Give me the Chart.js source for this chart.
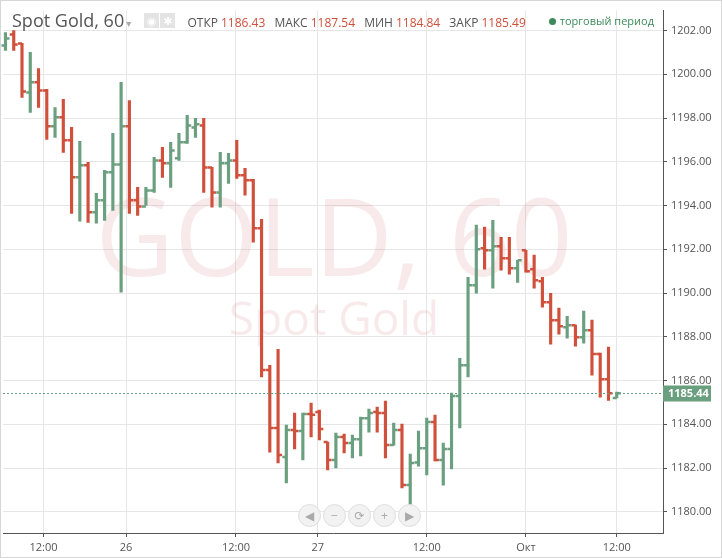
<!DOCTYPE html>
<html>
<head>
<meta charset="utf-8">
<script src="https://cdn.jsdelivr.net/npm/chart.js@4"></script>
<style>
  body { margin: 0; background: #fff; font-family: "Open Sans", "DejaVu Sans", sans-serif; }
  #wrap { position: relative; width: 722px; height: 558px; }
  #frame { position: absolute; left: 0; top: 0; width: 720px; height: 556px; border: 1px solid #d6d6d6; pointer-events: none; }
  #header { position: absolute; left: 12px; top: 8px; font-size: 12px; color: #555; white-space: nowrap; }
  #header .title { font-size: 18px; color: #555; margin-right: 2px; }
  #header .caret { color: #aaa; font-size: 10px; margin-right: 10px; }
  #header .icon { display: inline-block; width: 15px; height: 15px; background: #e4e4e4; color: #fff; font-size: 11px; text-align: center; line-height: 15px; margin-right: 1px; vertical-align: 2px; }
  #header .lbl { margin-left: 6px; }
  #header .first { margin-left: 8px; }
  #header .val { color: #d0503c; margin-left: 3px; }
  #session { position: absolute; right: 68px; top: 13px; font-size: 11px; color: #3c8a5a; }
  #session::before { content: ""; display: inline-block; width: 7px; height: 7px; border-radius: 50%; background: #3c8a5a; margin-right: 4px; vertical-align: 0; }
  #nav { position: absolute; left: 298px; top: 503px; }
  #nav span { display: inline-block; width: 21px; height: 21px; border-radius: 50%; border: 1px solid #ddd; background: #f2f2f2; color: #aaa; text-align: center; line-height: 21px; font-size: 12px; margin-right: 2px; }
</style>
</head>
<body>
<div id="wrap">
  <canvas id="chart" width="722" height="558"></canvas>
  <div id="header">
    <span class="title">Spot Gold, 60</span><span class="caret">▾</span>
    <span class="icon">◉</span><span class="icon">✱</span>
    <span class="lbl first">ОТКР</span><span class="val">1186.43</span>
    <span class="lbl">МАКС</span><span class="val">1187.54</span>
    <span class="lbl">МИН</span><span class="val">1184.84</span>
    <span class="lbl">ЗАКР</span><span class="val">1185.49</span>
  </div>
  <div id="session">торговый период</div>
  <div id="nav"><span>◀</span><span>−</span><span>⟳</span><span>+</span><span>▶</span></div>
  <div id="frame"></div>
</div>
<script>
const UP_COLOR = '#6a9f7f';
const DOWN_COLOR = '#d0503c';
const LAST_PRICE = 1185.44;

// hourly bars, oldest first
const opens = [1201.32, 1201.82, 1201.41, 1199.17, 1199.63, 1199.26, 1197.62, 1198.03, 1196.98, 1195.29,
  1195.84, 1193.69, 1194.24, 1195.52, 1195.88, 1197.62, 1194.24, 1193.96, 1194.69, 1196.06,
  1195.93, 1196.16, 1196.89, 1197.57, 1197.66, 1195.74, 1194.60, 1195.93, 1196.06, 1195.38,
  1195.15, 1192.96, 1186.48, 1183.83, 1182.50, 1183.74, 1183.69, 1184.47, 1184.56, 1183.19,
  1182.37, 1183.42, 1183.14, 1183.32, 1184.28, 1184.56, 1184.51, 1183.05, 1183.74, 1181.22,
  1182.25, 1182.90, 1184.10, 1182.37, 1182.87, 1185.29, 1186.70, 1190.36, 1192.05, 1191.95,
  1192.14, 1191.59, 1191.13, 1191.95, 1191.09, 1190.54, 1189.58, 1188.76, 1188.44, 1188.53,
  1187.98, 1188.30, 1187.21, 1186.06, 1185.20];
const highs = [1201.91, 1202.00, 1201.41, 1201.00, 1200.26, 1199.31, 1198.48, 1198.85, 1197.57, 1196.93,
  1195.97, 1194.56, 1195.61, 1197.30, 1199.63, 1198.80, 1194.83, 1194.83, 1196.20, 1196.66,
  1196.89, 1197.30, 1198.12, 1197.98, 1197.98, 1195.74, 1196.43, 1196.38, 1196.98, 1195.70,
  1195.20, 1193.37, 1186.70, 1187.43, 1183.96, 1184.51, 1184.51, 1184.97, 1184.65, 1183.19,
  1183.60, 1183.55, 1183.51, 1184.33, 1184.69, 1184.79, 1185.06, 1184.06, 1184.01, 1182.64,
  1183.69, 1184.28, 1184.42, 1183.14, 1185.43, 1187.02, 1190.72, 1193.10, 1193.01, 1193.32,
  1192.55, 1192.55, 1191.50, 1191.95, 1191.73, 1190.72, 1189.99, 1189.31, 1188.94, 1188.53,
  1189.17, 1188.76, 1187.25, 1187.53, 1185.47];
const lows = [1201.09, 1201.09, 1198.94, 1198.26, 1198.48, 1197.02, 1197.11, 1196.43, 1193.64, 1193.28,
  1193.23, 1193.19, 1193.32, 1193.78, 1190.04, 1193.64, 1193.55, 1194.01, 1194.60, 1195.29,
  1194.83, 1196.06, 1196.84, 1197.11, 1194.60, 1193.92, 1193.92, 1195.01, 1195.24, 1194.47,
  1192.32, 1186.16, 1182.73, 1182.23, 1181.32, 1182.87, 1182.37, 1183.42, 1183.28, 1181.91,
  1182.00, 1182.69, 1182.46, 1182.55, 1183.64, 1183.64, 1182.46, 1183.05, 1181.09, 1180.17,
  1182.09, 1181.68, 1182.32, 1181.22, 1181.96, 1183.83, 1186.16, 1189.99, 1191.09, 1190.22,
  1191.04, 1190.86, 1190.49, 1190.95, 1190.22, 1189.35, 1187.66, 1188.12, 1187.94, 1187.57,
  1187.71, 1186.25, 1185.24, 1185.09, 1185.20];
const closes = [1201.63, 1201.36, 1199.21, 1199.63, 1199.26, 1197.62, 1198.03, 1196.98, 1195.29, 1195.84,
  1193.69, 1194.24, 1195.52, 1195.88, 1197.62, 1194.24, 1193.96, 1194.69, 1196.06, 1195.93,
  1196.52, 1196.89, 1197.66, 1197.71, 1195.74, 1194.60, 1195.93, 1196.06, 1195.38, 1195.15,
  1192.96, 1186.48, 1183.83, 1182.59, 1183.74, 1183.69, 1184.47, 1184.43, 1183.78, 1182.37,
  1183.42, 1183.14, 1183.32, 1184.28, 1184.51, 1184.51, 1183.05, 1183.74, 1181.22, 1182.23,
  1182.90, 1184.10, 1182.37, 1182.87, 1185.29, 1186.70, 1190.36, 1192.00, 1191.95, 1192.14,
  1191.59, 1191.13, 1191.50, 1191.00, 1190.58, 1189.58, 1188.76, 1188.48, 1188.53, 1187.98,
  1188.30, 1187.21, 1186.06, 1185.42, 1185.42];

// time labels sit between bars (bar index positions)
const timeTickPositions = [4.6, 14.6, 27.9, 37.8, 51, 63, 74];
const timeTickLabels = ['12:00', '26', '12:00', '27', '12:00', 'Окт', '12:00'];

const barColors = opens.map((o, i) => (closes[i] >= o ? UP_COLOR : DOWN_COLOR));

const ohlcTicks = {
  id: 'ohlcTicks',
  afterDatasetsDraw(chart) {
    const { ctx, scales: { x, y } } = chart;
    ctx.save();
    ctx.lineWidth = 2.5;
    opens.forEach((o, i) => {
      const px = x.getPixelForValue(i);
      ctx.strokeStyle = barColors[i];
      ctx.beginPath();
      ctx.moveTo(px - 4, y.getPixelForValue(o));
      ctx.lineTo(px, y.getPixelForValue(o));
      ctx.moveTo(px, y.getPixelForValue(closes[i]));
      ctx.lineTo(px + 4, y.getPixelForValue(closes[i]));
      ctx.stroke();
    });
    ctx.restore();
  },
};

const watermark = {
  id: 'watermark',
  beforeDatasetsDraw(chart) {
    const { ctx } = chart;
    ctx.save();
    ctx.fillStyle = 'rgba(200, 90, 90, 0.13)';
    ctx.textAlign = 'center';
    ctx.textBaseline = 'middle';
    ctx.font = '108px "Open Sans", sans-serif';
    ctx.fillText('GOLD, 60', 334, 245);
    ctx.font = '46px "Open Sans", sans-serif';
    ctx.fillText('Spot Gold', 334, 322);
    ctx.restore();
  },
};

const lastPrice = {
  id: 'lastPrice',
  afterDatasetsDraw(chart) {
    const { ctx, chartArea, scales: { y } } = chart;
    const py = Math.round(y.getPixelForValue(LAST_PRICE)) + 0.5;
    ctx.save();
    ctx.strokeStyle = UP_COLOR;
    ctx.lineWidth = 1;
    ctx.setLineDash([2, 2]);
    ctx.beginPath();
    ctx.moveTo(chartArea.left, py);
    ctx.lineTo(chartArea.right, py);
    ctx.stroke();
    ctx.setLineDash([]);
    ctx.fillStyle = UP_COLOR;
    ctx.fillRect(chartArea.right, py - 8, 48, 16);
    ctx.fillStyle = '#fff';
    ctx.font = 'bold 11px "Open Sans", sans-serif';
    ctx.textBaseline = 'middle';
    ctx.fillText(LAST_PRICE.toFixed(2), chartArea.right + 5, py);
    ctx.restore();
  },
};

new Chart(document.getElementById('chart'), {
  type: 'bar',
  data: {
    datasets: [{
      data: highs.map((h, i) => ({ x: i, y: [lows[i], h] })),
      backgroundColor: barColors,
      barThickness: 2.5,
    }],
  },
  options: {
    responsive: false,
    animation: false,
    layout: { padding: { left: 3, top: 10, right: 0, bottom: 0 } },
    scales: {
      x: {
        type: 'linear',
        offset: false,
        min: -0.3,
        max: 79.6,
        afterBuildTicks: (scale) => {
          scale.ticks = timeTickPositions.map((value) => ({ value }));
        },
        ticks: {
          autoSkip: false,
          maxRotation: 0,
          color: '#555',
          font: { size: 11, family: '"Open Sans", sans-serif' },
          padding: 4,
          callback: (value) => timeTickLabels[timeTickPositions.indexOf(value)],
        },
        grid: { color: '#e6e6e6', offset: false, tickLength: 4, tickColor: '#555' },
        border: { color: '#555' },
        afterFit: (scale) => { scale.height = 25; },
      },
      y: {
        position: 'right',
        min: 1179.03,
        max: 1202.91,
        afterBuildTicks: (scale) => {
          const ticks = [];
          for (let v = 1180; v <= 1202; v += 2) ticks.push({ value: v });
          scale.ticks = ticks;
        },
        ticks: {
          color: '#555',
          font: { size: 11, family: '"Open Sans", sans-serif' },
          padding: 4,
          callback: (value) => value.toFixed(2),
        },
        grid: { color: '#e6e6e6', tickLength: 4, tickColor: '#555' },
        border: { color: '#555' },
        afterFit: (scale) => { scale.width = 59; },
      },
    },
    plugins: { legend: { display: false }, tooltip: { enabled: false } },
  },
  plugins: [watermark, ohlcTicks, lastPrice],
});
</script>
</body>
</html>
